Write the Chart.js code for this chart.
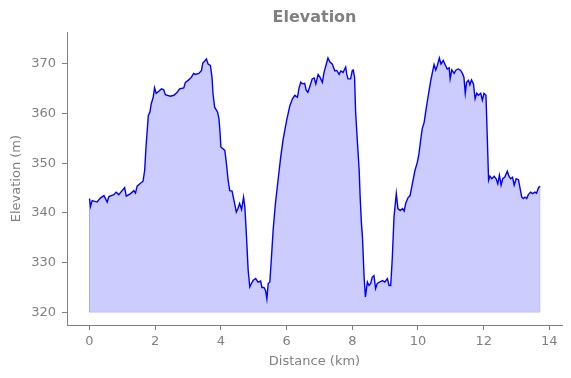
<!DOCTYPE html>
<html>
<head>
<meta charset="utf-8">
<script src="https://cdn.jsdelivr.net/npm/chart.js@4"></script>
<style>
  html, body { margin: 0; padding: 0; background: #ffffff; }
  #wrap { width: 571px; height: 378px; }
</style>
</head>
<body>
<div id="wrap"><canvas id="c" width="571" height="378"></canvas></div>
<script>
const chartTitle = "Elevation";
const xAxisLabel = "Distance (km)";
const yAxisLabel = "Elevation (m)";
const baselineM = 320;

const distanceKm = [
  0, 0.03, 0.08, 0.23, 0.33, 0.44, 0.54, 0.59, 0.74, 0.81, 0.89, 1.07, 1.12, 1.25, 1.35, 1.40, 1.45, 1.55, 1.63, 1.68,
  1.72, 1.79, 1.84, 1.88, 1.94, 1.98, 2.03, 2.11, 2.19, 2.26, 2.31, 2.46, 2.57, 2.67, 2.74, 2.87, 2.92, 3.02, 3.10, 3.17,
  3.22, 3.33, 3.41, 3.45, 3.51,
  3.56, 3.61, 3.68, 3.73, 3.76, 3.81, 3.90, 3.94, 3.97, 4.00, 4.07, 4.12, 4.17, 4.22, 4.27, 4.34, 4.40, 4.47, 4.52, 4.57,
  4.63, 4.69, 4.73, 4.78, 4.83, 4.88, 4.93, 4.98, 5.06, 5.13, 5.21, 5.25, 5.31, 5.36, 5.40, 5.44, 5.49, 5.54, 5.59, 5.66,
  5.74, 5.82, 5.89, 6.00, 6.10, 6.18, 6.25, 6.33, 6.38, 6.43, 6.48, 6.55, 6.60, 6.65, 6.70, 6.78, 6.84, 6.89, 6.96, 7.02,
  7.09, 7.14, 7.21, 7.26, 7.32, 7.39, 7.47, 7.53, 7.60, 7.65, 7.72, 7.77, 7.80, 7.83, 7.87, 7.95, 8.00, 8.03, 8.07, 8.10,
  8.16, 8.21, 8.24, 8.28, 8.31, 8.36, 8.40, 8.46, 8.51, 8.56, 8.61, 8.66, 8.71, 8.76, 8.83, 8.92, 8.99, 9.07, 9.12, 9.17,
  9.22, 9.27, 9.30, 9.34, 9.39, 9.46, 9.53, 9.58, 9.63, 9.70, 9.76, 9.83, 9.91, 9.98, 10.03, 10.08, 10.13, 10.19, 10.24, 10.29,
  10.34, 10.39, 10.44, 10.49, 10.54,
  10.59, 10.65, 10.70, 10.77, 10.84, 10.89, 10.95, 10.98, 11.03, 11.10, 11.16, 11.23, 11.30, 11.36, 11.40, 11.44, 11.48, 11.54, 11.58, 11.63,
  11.69, 11.74, 11.79, 11.84, 11.91, 11.96, 12.01, 12.07, 12.11, 12.15, 12.19, 12.25, 12.32, 12.38, 12.43, 12.48, 12.53, 12.58, 12.64, 12.72,
  12.77, 12.82, 12.88, 12.93, 12.99, 13.06, 13.11, 13.16, 13.21, 13.26, 13.31, 13.36, 13.43, 13.49, 13.56, 13.61, 13.67, 13.72
];

const elevationM = [
  342.9, 341.3, 342.5, 342.2, 343.0, 343.5, 342.2, 343.3, 343.7, 344.2, 343.7, 345.1, 343.4, 343.9, 344.5, 344.0, 345.4, 346.0, 346.4, 348.6,
  353.3, 359.6, 360.3, 362.0, 363.3, 365.2, 364.1, 364.5, 365.0, 364.8, 363.8, 363.5, 363.7, 364.3, 365.0, 365.2, 366.3, 366.8, 367.3, 368.1,
  367.9, 368.1, 368.7, 370.2, 370.6,
  371.0, 370.0, 369.7, 367.3, 364.0, 361.3, 360.3, 359.0, 356.6, 353.3, 352.9, 352.6, 349.9, 346.6, 344.5, 344.4, 342.5, 340.2, 340.9, 341.9,
  340.7, 343.2, 341.2, 335.2, 328.5, 325.1, 325.8, 326.4, 326.8, 326.1, 326.3, 325.0, 325.0, 324.4, 322.7, 325.8, 326.1, 331.1, 336.5, 341.9,
  346.6, 351.2, 354.6, 358.6, 361.6, 363.0, 363.7, 363.3, 365.2, 366.3, 366.0, 366.1, 364.7, 364.3, 365.3, 367.0, 367.2, 366.0, 367.9, 367.3,
  366.3, 368.3, 370.0, 371.2, 370.4, 370.0, 368.6, 368.7, 367.9, 368.6, 368.3, 369.0, 369.4, 368.0, 367.0, 367.0, 368.7, 368.8, 367.3, 360.6,
  353.9, 348.6, 343.2, 337.8, 335.2, 327.1, 323.1, 326.1, 325.4, 325.8, 327.1, 327.4, 324.8, 325.8, 326.1, 326.4, 326.1, 326.8, 325.4, 325.4,
  331.1, 339.2, 341.2, 343.9, 340.9, 340.5, 340.9, 340.4, 342.0, 343.1, 343.5, 345.9, 348.6, 350.2, 351.9, 354.6, 357.0, 358.3, 360.6, 362.7,
  364.7, 366.7, 368.3, 369.9, 368.8,
  369.7, 371.2, 370.0, 370.7, 369.7, 369.0, 369.2, 367.0, 368.8, 368.1, 368.8, 369.0, 368.7, 368.0, 367.3, 364.1, 366.3, 366.7, 365.8, 366.8,
  366.0, 363.0, 364.1, 363.7, 364.1, 362.7, 364.1, 363.7, 355.3, 346.6, 347.4, 346.9, 347.4, 346.9, 345.9, 347.6, 345.6, 346.9, 347.2, 348.4,
  347.4, 346.9, 347.2, 345.6, 346.9, 346.7, 344.9, 343.2, 342.9, 343.2, 342.9, 343.7, 344.2, 343.9, 344.2, 344.0, 345.1, 345.4
];

const xTickStep = 2;
const yTickStep = 10;

const profile = distanceKm.map((d, i) => ({ x: d, y: elevationM[i] }));
const n = distanceKm.length;
const outline = [
  { x: distanceKm[0], y: elevationM[0] },
  { x: distanceKm[0], y: baselineM },
  { x: distanceKm[n - 1], y: baselineM },
  { x: distanceKm[n - 1], y: elevationM[n - 1] }
];

const GRAY = '#808080';
const FONT = "'DejaVu Sans', sans-serif";

new Chart(document.getElementById('c'), {
  type: 'line',
  data: {
    datasets: [
      {
        data: profile,
        borderColor: '#0000ff',
        borderWidth: 1.4,
        pointRadius: 0,
        tension: 0,
        fill: { value: baselineM },
        backgroundColor: 'rgba(0,0,255,0.2)'
      },
      {
        data: outline,
        borderColor: 'rgba(0,0,255,0.12)',
        borderWidth: 1,
        pointRadius: 0,
        tension: 0,
        fill: false
      }
    ]
  },
  options: {
    responsive: false,
    animation: false,
    devicePixelRatio: 1,
    layout: { padding: { left: 0, right: 9, top: 0, bottom: 0 } },
    plugins: {
      legend: { display: false },
      tooltip: { enabled: false },
      title: {
        display: true,
        text: chartTitle,
        fullSize: false,
        color: GRAY,
        font: { family: FONT, size: 16, weight: 'bold' },
        padding: { top: 8, bottom: 5 }
      }
    },
    scales: {
      x: {
        type: 'linear',
        min: -0.685,
        max: 14.385,
        afterFit: (s) => { s.height = 53; },
        border: { display: true, color: GRAY, width: 1 },
        grid: { display: true, drawOnChartArea: false, drawTicks: true, tickLength: 5, color: GRAY },
        ticks: {
          stepSize: xTickStep,
          includeBounds: false,
          color: GRAY,
          padding: 4,
          maxRotation: 0,
          font: { family: FONT, size: 13 },
          callback: (v) => String(v)
        },
        title: {
          display: true,
          text: xAxisLabel,
          color: GRAY,
          font: { family: FONT, size: 13 },
          padding: { top: 0, bottom: 8.5 }
        }
      },
      y: {
        type: 'linear',
        min: 317.45,
        max: 376.4,
        afterFit: (s) => { s.width = 67; },
        border: { display: true, color: GRAY, width: 1 },
        grid: { display: true, drawOnChartArea: false, drawTicks: true, tickLength: 5, color: GRAY },
        ticks: {
          stepSize: yTickStep,
          includeBounds: false,
          color: GRAY,
          padding: 6,
          font: { family: FONT, size: 13 },
          callback: (v) => String(v)
        },
        title: {
          display: true,
          text: yAxisLabel,
          color: GRAY,
          font: { family: FONT, size: 13 },
          padding: { top: 9, bottom: 0 }
        }
      }
    }
  }
});
</script>
</body>
</html>
